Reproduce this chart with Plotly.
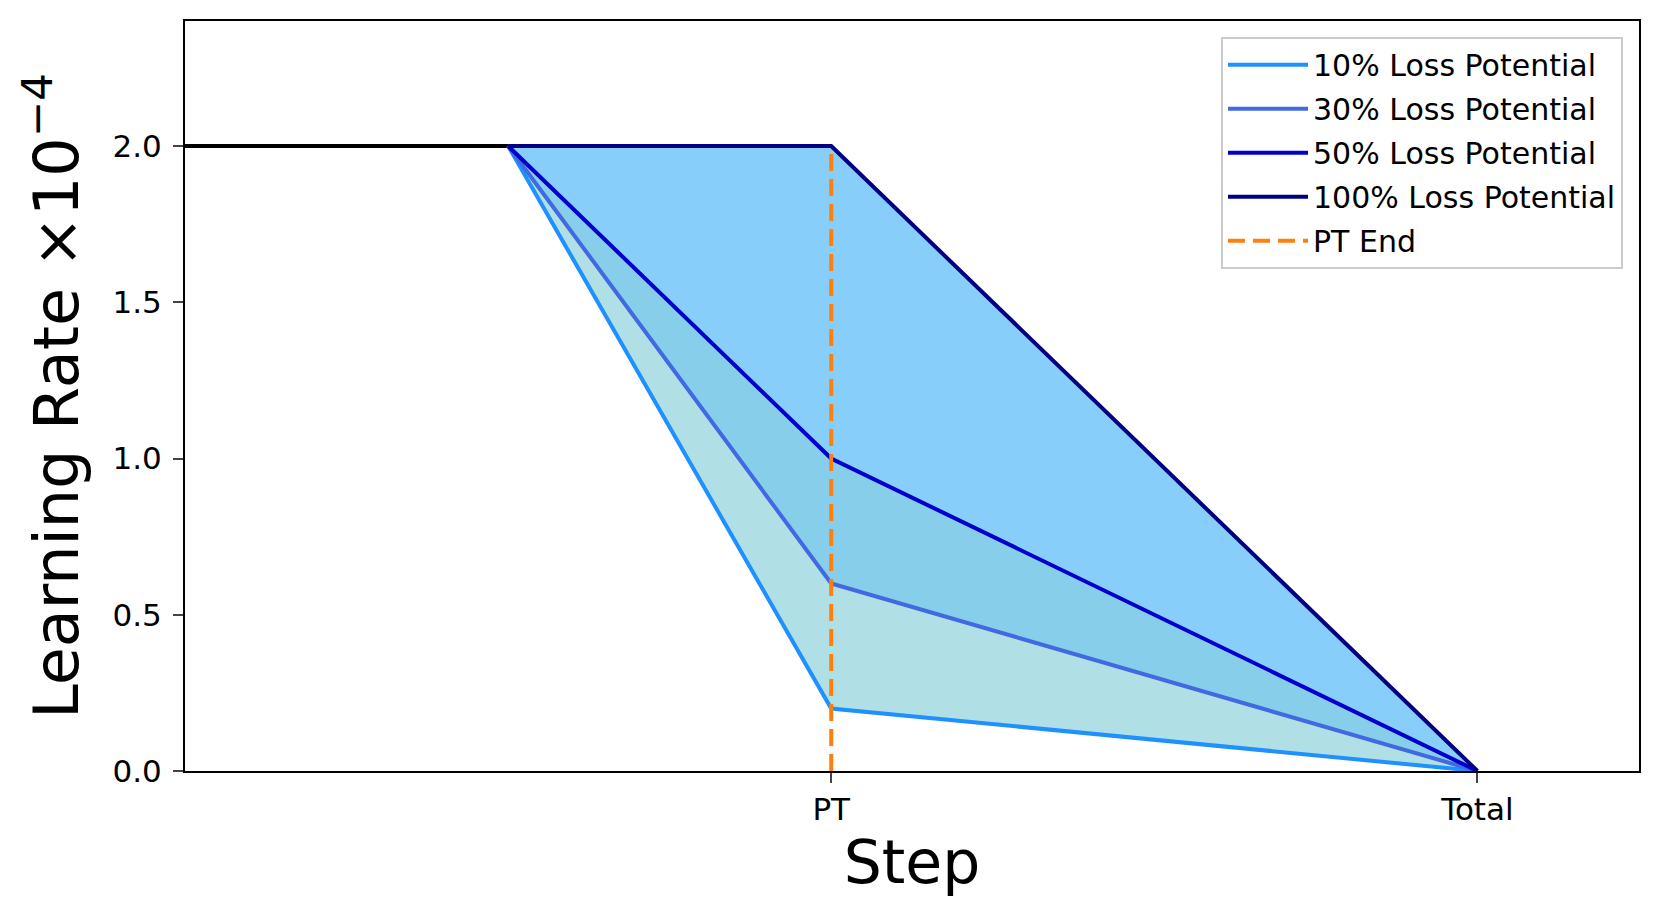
import plotly.graph_objects as go

# data
flat_x = [0, 0.5]
flat_y = [2.0, 2.0]
decay_x = [0.5, 1, 2]
lr_10 = [2.0, 0.2, 0.0]
lr_30 = [2.0, 0.6, 0.0]
lr_50 = [2.0, 1.0, 0.0]
lr_100 = [2.0, 2.0, 0.0]
pt_step = 1
total_step = 2
tick_vals = [pt_step, total_step]
tick_text = ["PT", "Total"]

series = [
    ("10% Loss Potential", lr_10, "#1E90FF", None),
    ("30% Loss Potential", lr_30, "#4169E1", "#B0E0E6"),
    ("50% Loss Potential", lr_50, "#0000CD", "#87CEEB"),
    ("100% Loss Potential", lr_100, "#000080", "#87CEFA"),
]

fig = go.Figure()
# shaded bands between neighbouring curves
for name, ys, col, fillcol in series:
    fig.add_trace(go.Scatter(
        x=decay_x, y=ys, mode="lines", showlegend=False, hoverinfo="skip",
        line=dict(width=0, color=col),
        fill="tonexty" if fillcol else None, fillcolor=fillcol,
    ))
fig.add_trace(go.Scatter(x=flat_x, y=flat_y, mode="lines", showlegend=False,
                         line=dict(color="black", width=4)))
for name, ys, col, fillcol in series:
    fig.add_trace(go.Scatter(x=decay_x, y=ys, mode="lines", name=name,
                             legendgroup=name, line=dict(color=col, width=4)))
fig.add_trace(go.Scatter(x=[pt_step, pt_step], y=[0, lr_100[1]], mode="lines",
                         name="PT End", legendgroup="pt",
                         line=dict(color="#FF7F0E", width=4, dash="17px,8px")))

fig.update_layout(
    width=1661, height=923,
    margin=dict(l=185, r=22, t=21, b=152),
    plot_bgcolor="white", paper_bgcolor="white",
    font=dict(family="DejaVu Sans", size=30, color="black"),
    legend=dict(x=0.989, y=0.979, xanchor="right", yanchor="top",
                bordercolor="#CCCCCC", borderwidth=2, bgcolor="white",
                font=dict(size=30), tracegroupgap=2, itemwidth=80),
    xaxis=dict(range=[0, 2.25], tickvals=tick_vals, ticktext=tick_text,
               showgrid=False, zeroline=False, ticks="outside", ticklen=10,
               tickwidth=2, linecolor="black", linewidth=2, mirror=True,
               tickfont=dict(size=31),
               title=dict(text="Step", font=dict(size=60), standoff=8)),
    yaxis=dict(range=[0, 2.4], tickvals=[0, 0.5, 1.0, 1.5, 2.0], tickformat=".1f",
               showgrid=False, zeroline=False, ticks="outside", ticklen=10,
               tickwidth=2, linecolor="black", linewidth=2, mirror=True,
               tickfont=dict(size=31), ticklabelstandoff=5,
               title=dict(text="Learning Rate ×10<sup>−4</sup>", font=dict(size=62),
                          standoff=14)),
)

fig.write_html("out.html", config={"displayModeBar": False},
               post_script="document.body.style.margin='0';")
